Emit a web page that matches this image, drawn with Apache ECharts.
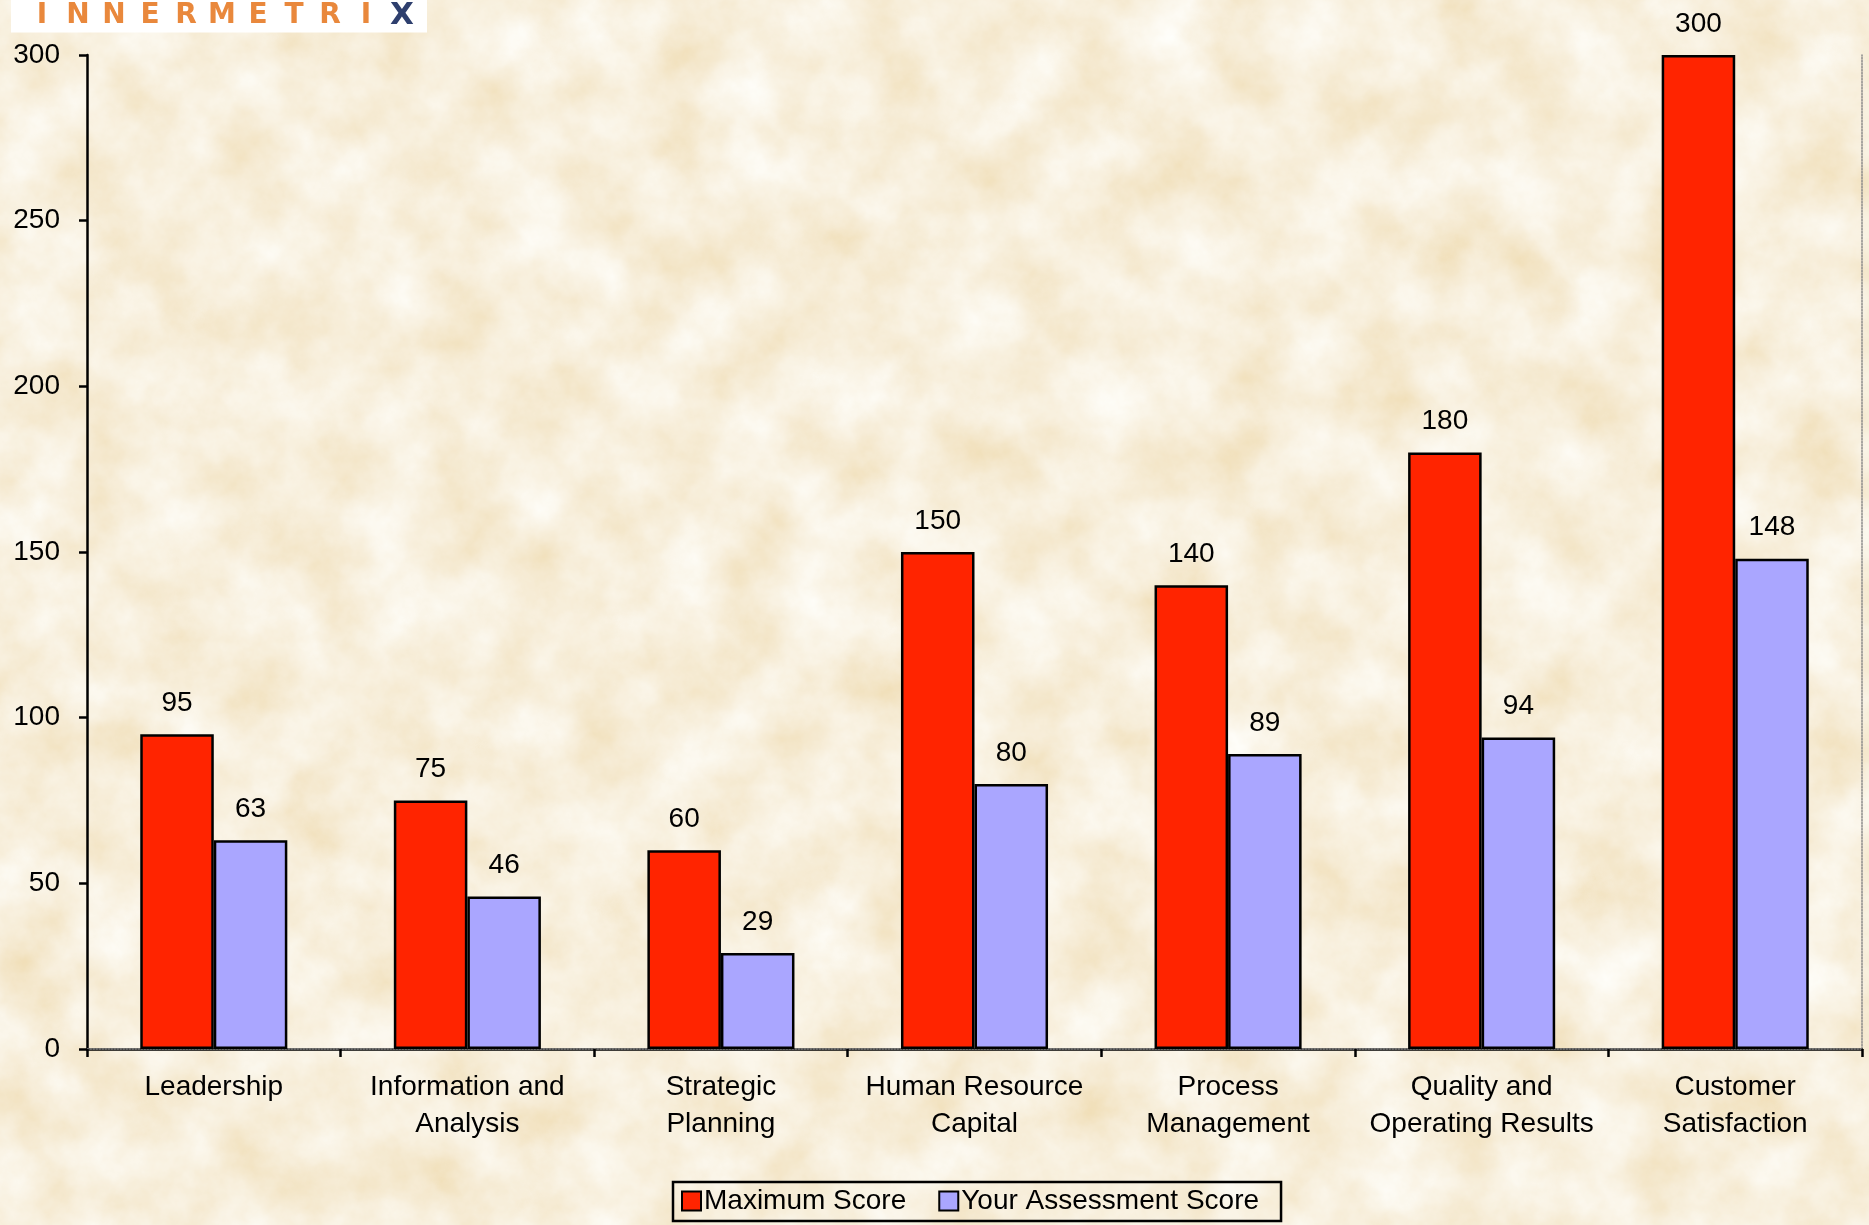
<!DOCTYPE html>
<html>
<head>
<meta charset="utf-8">
<script src="https://cdn.jsdelivr.net/npm/echarts@6/dist/echarts.min.js"></script>
<style>
  html, body { margin: 0; padding: 0; }
  body {
    width: 1869px; height: 1225px; overflow: hidden;
    background-color: #F0DDB3;
  }
  #chart { width: 1869px; height: 1225px; }
</style>
</head>
<body>
<div id="chart"></div>
<script>
const categories = [
  'Leadership',
  'Information and\nAnalysis',
  'Strategic\nPlanning',
  'Human Resource\nCapital',
  'Process\nManagement',
  'Quality and\nOperating Results',
  'Customer\nSatisfaction'
];
const maximumScore = [95, 75, 60, 150, 140, 180, 300];
const assessmentScore = [63, 46, 29, 80, 89, 94, 148];
const seriesNames = ['Maximum Score', 'Your Assessment Score'];
const yTicks = { min: 0, max: 300, interval: 50 };
const logoLetters = ['I','N','N','E','R','M','E','T','R','I'];
const logoLast = 'X';

// parchment texture (decorative background only)
const svg = "<svg xmlns='http://www.w3.org/2000/svg' width='1869' height='1225'>" +
  "<filter id='n' x='0' y='0' width='100%' height='100%'>" +
  "<feTurbulence type='fractalNoise' baseFrequency='0.014' numOctaves='6' seed='7'/>" +
  "<feColorMatrix type='matrix' values='0.14 0 0 0 0.866  0.3 0 0 0 0.715  0.56 0 0 0 0.44  0 0 0 0 1'/>" +
  "</filter><rect width='100%' height='100%' filter='url(#n)'/></svg>";
document.body.style.backgroundImage = 'url("data:image/svg+xml,' + encodeURIComponent(svg) + '")';

const FONT = '"Liberation Sans", Arial, sans-serif';
const chart = echarts.init(document.getElementById('chart'), null, { renderer: 'canvas' });

const logoText = logoLetters.map(l => '{o|' + l + '}').join('') + '{x|' + logoLast + '}';

const option = {
  backgroundColor: 'transparent',
  animation: false,
  title: {
    text: logoText,
    left: 11,
    top: 0,
    padding: [1, 7, 1, 13],
    backgroundColor: '#ffffff',
    textStyle: {
      rich: {
        o: { width: 36, align: 'center', color: '#E9883C', fontSize: 28, fontWeight: 'bold', fontFamily: '"DejaVu Sans", sans-serif', lineHeight: 30 },
        x: { width: 36, align: 'center', color: '#2E3F6E', fontSize: 31, fontFamily: '"DejaVu Sans", sans-serif', lineHeight: 30 }
      }
    }
  },
  legend: {
    data: seriesNames,
    left: 673,
    top: 1182,
    orient: 'horizontal',
    padding: [5, 22, 6, 8],
    itemGap: 32,
    itemWidth: 19,
    itemHeight: 19,
    icon: 'rect',
    borderColor: '#000',
    borderWidth: 2.5,
    textStyle: { fontSize: 28, color: '#000', fontFamily: FONT, padding: [0, 0, 0, -2] }
  },
  grid: { left: 87, right: 7, top: 55, bottom: 176, containLabel: false },
  xAxis: [
    {
      type: 'category',
      data: categories,
      axisLine: { show: true, lineStyle: { color: '#000', width: 2.5 } },
      axisTick: { show: true, length: 8, lineStyle: { color: '#000', width: 2.5 } },
      axisLabel: { fontSize: 28, color: '#000', fontFamily: FONT, margin: 20, lineHeight: 37, interval: 0 },
      splitLine: { show: false }
    },
    {
      type: 'category',
      data: categories,
      position: 'top',
      axisLine: { show: true, lineStyle: { color: '#8a8a8a', width: 1.5, type: 'dotted' } },
      axisTick: { show: false },
      axisLabel: { show: false },
      splitLine: { show: false }
    }
  ],
  yAxis: [
    {
      type: 'value',
      min: yTicks.min,
      max: yTicks.max,
      interval: yTicks.interval,
      axisLine: { show: true, lineStyle: { color: '#000', width: 2.5 } },
      axisTick: { show: true, length: 8, lineStyle: { color: '#000', width: 2.5 } },
      axisLabel: { fontSize: 28, color: '#000', fontFamily: FONT, margin: 27 },
      splitLine: { show: false }
    },
    {
      type: 'value',
      position: 'right',
      min: yTicks.min,
      max: yTicks.max,
      interval: yTicks.interval,
      axisLine: { show: true, lineStyle: { color: '#8a8a8a', width: 1.5, type: 'dotted' } },
      axisTick: { show: false },
      axisLabel: { show: false },
      splitLine: { show: false }
    }
  ],
  series: [
    {
      name: seriesNames[0],
      type: 'bar',
      data: maximumScore,
      barGap: '0%',
      barCategoryGap: '42%',
      itemStyle: { color: '#FF2400', borderColor: '#000', borderWidth: 2.5 },
      label: { show: true, position: 'top', distance: 17, fontSize: 28, color: '#000', fontFamily: FONT }
    },
    {
      name: seriesNames[1],
      type: 'bar',
      data: assessmentScore,
      barGap: '0%',
      barCategoryGap: '42%',
      itemStyle: { color: '#AAA6FF', borderColor: '#000', borderWidth: 2.5 },
      label: { show: true, position: 'top', distance: 17, fontSize: 28, color: '#000', fontFamily: FONT }
    }
  ]
};
chart.setOption(option);
</script>
</body>
</html>
